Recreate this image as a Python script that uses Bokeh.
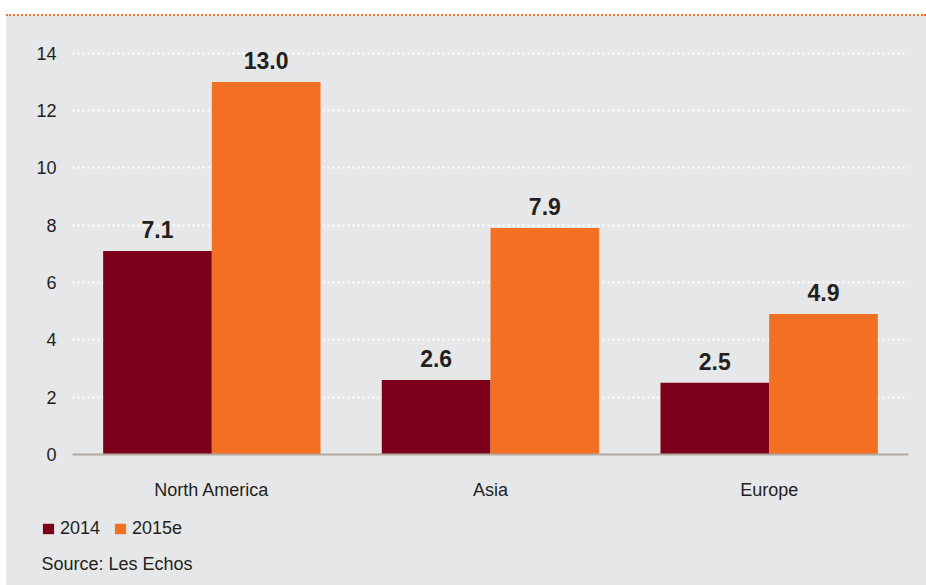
from bokeh.plotting import figure
from bokeh.models import (ColumnDataSource, FactorRange, FixedTicker, LabelSet, Label,
                          Legend, LegendItem, Div, Spacer)
from bokeh.core.properties import value
from bokeh.layouts import column, row
from bokeh.transform import dodge
from bokeh.embed import file_html
from bokeh.resources import INLINE

# Values by region, 2014 vs 2015 estimate
regions = ["North America", "Asia", "Europe"]
values_2014 = [7.1, 2.6, 2.5]
values_2015e = [13.0, 7.9, 4.9]
series_names = ["2014", "2015e"]
y_ticks = [0, 2, 4, 6, 8, 10, 12, 14]
source_note = "Source: Les Echos"

FONT = "Liberation Sans"
TEXT = "#231f20"
PANEL = "#e6e7e8"
DARK_RED = "#7c0019"
ORANGE = "#f36f21"
COLORS = [DARK_RED, ORANGE]

src = ColumnDataSource(dict(
    region=regions,
    v2014=values_2014,
    v2015=values_2015e,
    t2014=[f"{v:.1f}" for v in values_2014],
    t2015=[f"{v:.1f}" for v in values_2015e],
))

# ---- main bar chart ----
p = figure(
    width=920, height=492,
    x_range=FactorRange(*regions, range_padding=0),
    y_range=(0, 14.445),
    output_backend="svg", toolbar_location=None,
    min_border_left=66, min_border_right=18, min_border_top=24, min_border_bottom=54,
    background_fill_color=PANEL, border_fill_color=PANEL,
    outline_line_color=None,
    styles={"background-color": PANEL},
)

bw = 0.39
for ycol, tcol, off, color in (("v2014", "t2014", -bw / 2, DARK_RED),
                               ("v2015", "t2015", bw / 2, ORANGE)):
    p.vbar(x=dodge("region", off, range=p.x_range), top=ycol, width=bw,
           source=src, fill_color=color, line_color=None)
    p.add_layout(LabelSet(
        x=dodge("region", off, range=p.x_range), y=ycol, text=tcol, source=src,
        y_offset=13, text_align="center", text_baseline="alphabetic",
        text_font=value(FONT), text_font_size="23px", text_font_style="bold",
        text_color=TEXT,
    ))

# grid
p.xgrid.grid_line_color = None
p.ygrid.grid_line_color = "white"
p.ygrid.grid_line_width = 2
p.ygrid.grid_line_dash = "2 3"
p.ygrid.ticker = FixedTicker(ticks=y_ticks)

# y axis
p.yaxis.ticker = FixedTicker(ticks=y_ticks)
p.yaxis.axis_line_color = None
p.yaxis.major_tick_line_color = None
p.yaxis.minor_tick_line_color = None
p.yaxis.major_label_standoff = 10
p.yaxis.major_label_text_font = FONT
p.yaxis.major_label_text_font_size = "18px"
p.yaxis.major_label_text_color = TEXT

# x axis
p.xaxis.axis_line_color = "#b3a99f"
p.xaxis.axis_line_width = 2
p.xaxis.major_tick_line_color = None
p.xaxis.minor_tick_line_color = None
p.xaxis.major_tick_out = 0
p.xaxis.major_label_standoff = 25
p.xaxis.major_label_text_font = FONT
p.xaxis.major_label_text_font_size = "18px"
p.xaxis.major_label_text_color = TEXT

# ---- legend and source strip (pixel coordinates) ----
foot = figure(
    width=920, height=77, x_range=(0, 920), y_range=(0, 77),
    output_backend="svg", toolbar_location=None,
    min_border=0, background_fill_color=PANEL, border_fill_color=PANEL,
    outline_line_color=None,
    styles={"background-color": PANEL},
)
foot.axis.visible = False
foot.grid.visible = False
# swatch renderers for the legend, parked outside the visible range
swatches = [foot.vbar(x=[-500], top=[-500], width=1, fill_color=c, line_color=None)
            for c in COLORS]

legend = Legend(
    items=[LegendItem(label=name, renderers=[r]) for name, r in zip(series_names, swatches)],
    orientation="horizontal", location=(35, 46),
    glyph_width=14, glyph_height=13, label_standoff=5, spacing=13, label_height=20,
    padding=0, margin=0, border_line_color=None, background_fill_alpha=0,
    label_text_font=FONT, label_text_font_size="18px", label_text_color=TEXT,
)
foot.add_layout(legend)

foot.add_layout(Label(x=35, y=22, x_units="screen", y_units="screen", text=source_note,
                      text_font=FONT, text_font_size="18px", text_color=TEXT,
                      text_baseline="alphabetic"))

top_rule = Div(text="", width=926, height=16, margin=0,
               styles={"box-sizing": "border-box", "border-bottom": f"2px dotted {ORANGE}",
                       "margin-left": "6px", "width": "920px", "height": "15px"})
layout = column(top_rule,
                row(Spacer(width=6, height=492, margin=0), p, margin=0, spacing=0),
                row(Spacer(width=6, height=77, margin=0), foot, margin=0, spacing=0),
                margin=0, spacing=0)

open("out.html", "w").write(file_html(layout, INLINE))
